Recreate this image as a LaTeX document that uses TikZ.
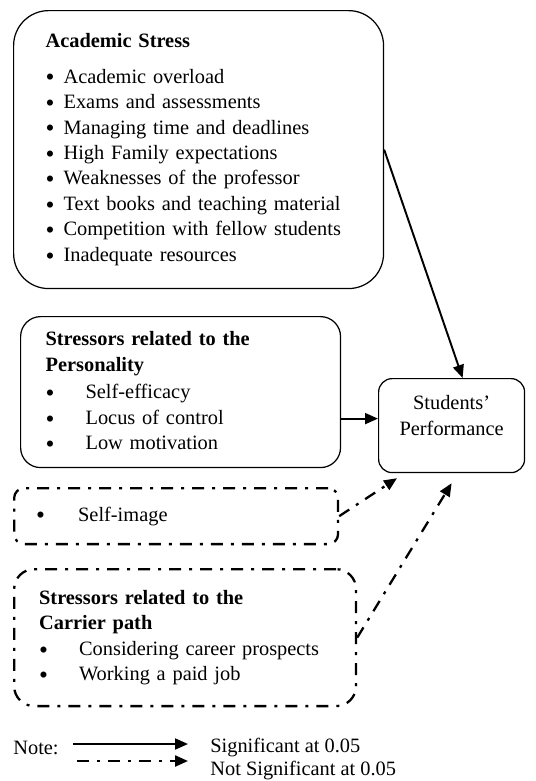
\documentclass[tikz,border=0pt]{standalone}
\usepackage{fontspec}
\setmainfont{Liberation Serif}
\usetikzlibrary{arrows.meta}

\newcommand{\bul}[1]{\makebox[#1][l]{\raisebox{-0.3ex}{\scalebox{1.25}{\textbullet}}}}

\tikzset{
	solidbox/.style={draw,line width=0.7pt,align=left,anchor=north west},
	dotbox/.style={draw,line width=1.3pt,align=left,anchor=north west,
		dash pattern=on 0.24cm off 0.16cm on 0.06cm off 0.16cm},
	sig/.style={line width=1.1pt,-{Triangle[length=0.26cm,width=0.22cm]}},
	nsig/.style={line width=1.3pt,-{Triangle[length=0.26cm,width=0.22cm]},
		dash pattern=on 0.24cm off 0.16cm on 0.06cm off 0.16cm},
}

\begin{document}
\begin{tikzpicture}[x=0.02cm,y=-0.02cm,font=\fontsize{11.6}{14.5}\selectfont]
		
		\useasboundingbox (0,0) rectangle (536,781);
		
		\node[solidbox,
		rounded corners=0.7cm,
		text width=6.12cm,
		inner xsep=0.64cm,
		minimum height=5.56cm] (acad) at (13,10) {\textbf{Academic Stress}\\[0.2cm]
			\bul{0.36cm}Academic overload\\
			\bul{0.36cm}Exams and assessments\\
			\bul{0.36cm}Managing time and deadlines\\
			\bul{0.36cm}High Family expectations\\
			\bul{0.36cm}Weaknesses of the professor\\
			\bul{0.36cm}Text books and teaching material\\
			\bul{0.36cm}Competition with fellow students\\
			\bul{0.36cm}Inadequate resources};
		
		\node[solidbox,
		rounded corners=0.4cm,
		text width=5.4cm,
		inner xsep=0.5cm,
		minimum height=3.02cm] (pers) at (20,316) {\textbf{Stressors related to the}\\
			\textbf{Personality}\\[0.04cm]
			\bul{0.8cm}Self-efficacy\\
			\bul{0.8cm}Locus of control\\
			\bul{0.8cm}Low motivation};
		
		\node[draw,
		line width=0.7pt,
		rounded corners=0.27cm,
		align=center,
		anchor=north west,
		text depth=0.4cm,
		minimum width=2.92cm,
		minimum height=1.88cm] (perf) at (378,378) {Students'\\ Performance};
		
		\node[dotbox,
		rounded corners=0.2cm,
		text width=5.6cm,
		inner xsep=0.44cm,
		minimum height=1.12cm] (self) at (13,487) {\bul{0.84cm}Self-image};
		
		\node[dotbox,
		rounded corners=0.4cm,
		text width=5.84cm,
		inner xsep=0.5cm,
		minimum height=2.74cm] (carr) at (13,568) {\textbf{Stressors related to the}\\
			\textbf{Carrier path}\\
			\bul{0.8cm}Considering career prospects\\
			\bul{0.8cm}Working a paid job};
		
		% Note
		\node[anchor=west,inner sep=0] (note) at (13,748) {Note:};
		\node[anchor=west,inner sep=0] (lsig) at (210,748) {Significant at 0.05};
		\node[anchor=west,inner sep=0] (lnsig) at (210,771) {Not Significant at 0.05};
		\coordinate (s1) at (73,744);
		\coordinate (s2) at (188,744);
		\coordinate (n1) at (77,761);
		\coordinate (n2) at (188,761);
		
		% Arrows
		\draw[sig] (acad.east) -- ([xshift=0.22cm]perf.north);
		\draw[sig] ([yshift=0.14cm]perf.west -| pers.east) -- ([yshift=0.14cm]perf.west);
		\draw[nsig] (self.east) -- ([xshift=0.38cm,yshift=-0.1cm]perf.south west);
		\draw[nsig] (carr.east) -- ([yshift=-0.2cm]perf.south);
		
		\draw[sig] (s1) -- (s2);
		\draw[nsig] (n1) -- (n2);
		
\end{tikzpicture}
\end{document}
